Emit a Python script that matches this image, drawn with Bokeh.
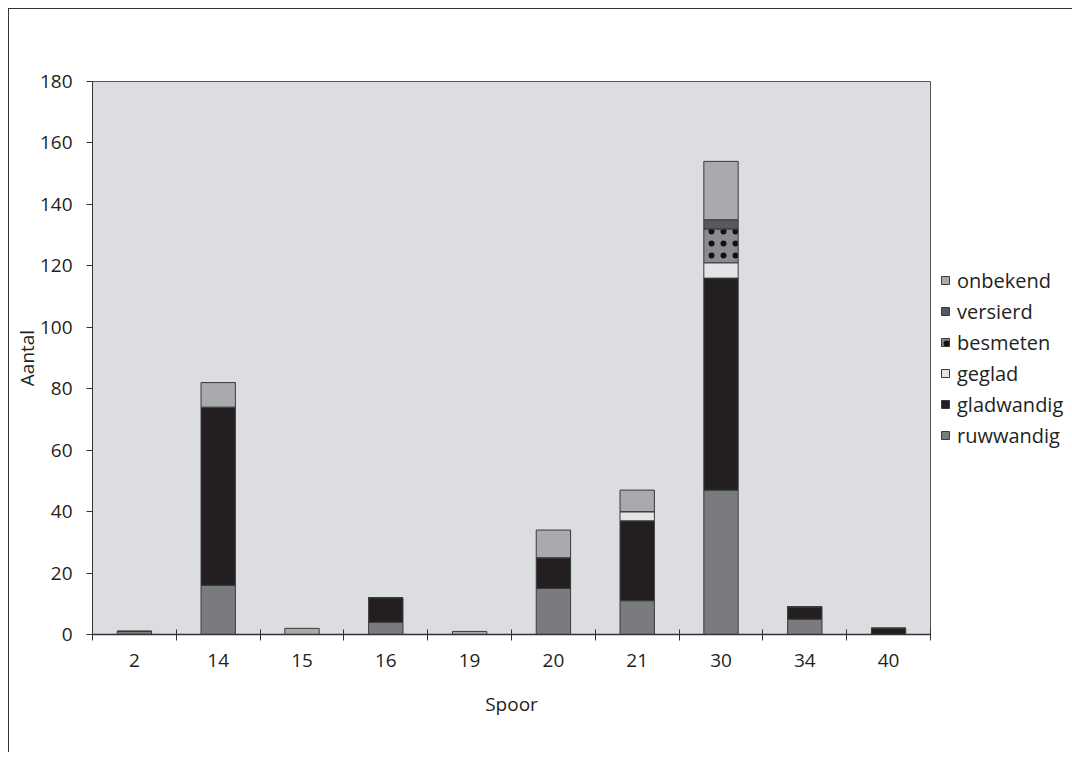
import numpy as np
from bokeh.plotting import figure
from bokeh.models import (ColumnDataSource, Range1d, FixedTicker, Legend, LegendItem,
                          LinearAxis)
from bokeh.embed import file_html
from bokeh.resources import INLINE

spoor = ["2", "14", "15", "16", "19", "20", "21", "30", "34", "40"]
ruwwandig = [1, 16, 0, 4, 0, 15, 11, 47, 5, 0]
gladwandig = [0, 58, 0, 8, 0, 10, 26, 69, 4, 2]
geglad = [0, 0, 0, 0, 0, 0, 3, 5, 0, 0]
besmeten = [0, 0, 0, 0, 0, 0, 0, 11, 0, 0]
versierd = [0, 0, 0, 0, 0, 0, 0, 3, 0, 0]
onbekend = [0, 8, 2, 0, 1, 9, 7, 19, 0, 0]
y_ticks = [0, 20, 40, 60, 80, 100, 120, 140, 160, 180]

series = ["ruwwandig", "gladwandig", "geglad", "besmeten", "versierd", "onbekend"]
colors = ["#7a7b7f", "#231f20", "#e4e4e6", "#8b8c8f", "#58595b", "#a9aaad"]

FONT = "Open Sans"
TXT = "#231f20"

xpos = np.arange(len(spoor)) + 0.5
data = dict(x=xpos, ruwwandig=ruwwandig, gladwandig=gladwandig, geglad=geglad,
            besmeten=besmeten, versierd=versierd, onbekend=onbekend)

p = figure(frame_width=838, frame_height=553,
           x_range=Range1d(0, len(spoor)), y_range=Range1d(0, 180),
           output_backend="svg", toolbar_location=None,
           min_border_left=83, min_border_top=72, min_border_right=133,
           min_border_bottom=118, x_axis_type=None)
p.styles = {"border-left": "1px solid #333333", "border-top": "1px solid #333333",
            "margin-left": "8px", "margin-top": "8px"}
p.background_fill_color = "#dcdde0"
p.border_fill_color = "white"
p.outline_line_color = "#555555"
p.outline_line_width = 1
p.grid.visible = False

renderers = []
bottom = np.zeros(len(spoor))
for name, col in zip(series, colors):
    vals = np.array(data[name], dtype=float)
    kw = {}
    if name == "besmeten":
        kw = dict(hatch_pattern="dot", hatch_color="#111111", hatch_scale=12, hatch_weight=4.5)
    s = ColumnDataSource(dict(x=xpos, top=bottom + vals, bottom=bottom.copy()))
    r = p.vbar(x="x", top="top", bottom="bottom", width=0.41, source=s,
               fill_color=col, line_color="#3a3a3a", line_width=1, **kw)
    renderers.append(r)
    bottom = bottom + vals

# x axis: labels at category centres, tick marks between categories
xaxis = LinearAxis(ticker=FixedTicker(ticks=list(xpos), minor_ticks=list(range(len(spoor) + 1))))
xaxis.major_label_overrides = {float(x): s for x, s in zip(xpos, spoor)}
xaxis.major_tick_in = 0
xaxis.major_tick_out = 0
xaxis.minor_tick_in = 5
xaxis.minor_tick_out = 6
xaxis.minor_tick_line_color = "#333333"
xaxis.axis_line_color = "#333333"
xaxis.axis_line_width = 1.5
xaxis.major_label_standoff = 13
xaxis.major_label_text_font = FONT
xaxis.major_label_text_font_size = "19px"
xaxis.major_label_text_color = TXT
xaxis.axis_label = "Spoor"
xaxis.axis_label_text_font = FONT
xaxis.axis_label_text_font_size = "19px"
xaxis.axis_label_text_font_style = "normal"
xaxis.axis_label_text_color = TXT
xaxis.axis_label_standoff = 21
p.add_layout(xaxis, "below")

yaxis = p.yaxis[0]
yaxis.ticker = FixedTicker(ticks=y_ticks)
yaxis.minor_tick_line_color = None
yaxis.major_tick_in = 0
yaxis.major_tick_out = 6
yaxis.major_tick_line_color = "#333333"
yaxis.axis_line_color = "#333333"
yaxis.major_label_standoff = 14
yaxis.major_label_text_font = FONT
yaxis.major_label_text_font_size = "19px"
yaxis.major_label_text_color = TXT
yaxis.axis_label = "Aantal"
yaxis.axis_label_text_font = FONT
yaxis.axis_label_text_font_size = "19px"
yaxis.axis_label_text_font_style = "normal"
yaxis.axis_label_text_color = TXT
yaxis.axis_label_standoff = -3

items = [LegendItem(label=n, renderers=[r]) for n, r in zip(series, renderers)][::-1]
legend = Legend(items=items, location="center_left", margin=10, padding=0,
                glyph_width=10, glyph_height=10, label_standoff=7,
                label_height=20, spacing=4,
                label_text_font=FONT, label_text_font_size="20px",
                label_text_color=TXT, border_line_color=None,
                background_fill_alpha=0)
p.add_layout(legend, "right")

open("out.html", "w").write(file_html(p, INLINE))
